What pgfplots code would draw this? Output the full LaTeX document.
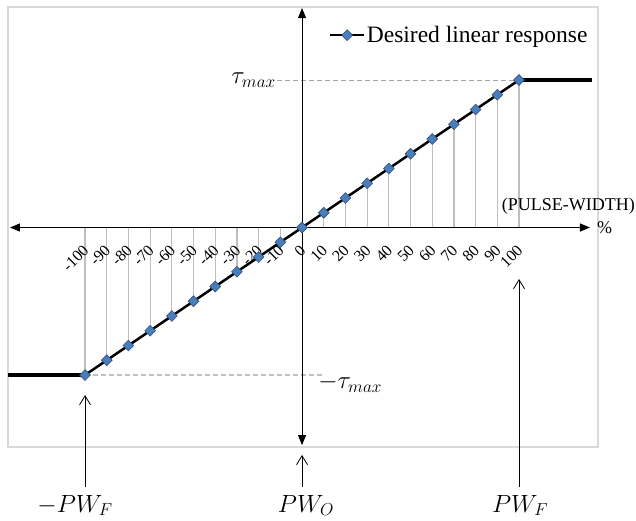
\documentclass[border=0pt]{standalone}
\usepackage{fontspec}
\setmainfont{Liberation Serif}
\usepackage{pgfplots}
\pgfplotsset{compat=1.18}
\usetikzlibrary{arrows.meta,calc}
\definecolor{mk}{HTML}{4A7EBB}
\definecolor{mkd}{HTML}{2F4F7F}
\definecolor{gl}{HTML}{BFBFBF}
\definecolor{dl}{HTML}{A6A6A6}
\definecolor{frm}{HTML}{D9D9D9}
\begin{document}
\begin{tikzpicture}
\begin{axis}[
  at={(8pt,74pt)}, anchor=south west,
  scale only axis, width=590pt, height=440pt,
  xmin=-135.5, xmax=136.4, ymin=-148.8, ymax=149.5,
  axis line style={frm, line width=1.3pt},
  xtick=\empty, ytick=\empty,
  clip=false,
  legend cell align=left,
  legend style={at={(rel axis cs:0.985,0.936)}, anchor=east, draw=none, fill=none,
    inner sep=0pt, nodes={inner sep=1.5pt}, font=\fontsize{23.5}{26}\selectfont},
  legend image code/.code={\draw[#1,mark repeat=2,mark phase=2] plot coordinates {(0pt,0pt)(17pt,0pt)(34pt,0pt)};},
]
% vertical guide lines
\addplot[ycomb, gl, line width=1.2pt, forget plot] coordinates {
(-100,-100)(-90,-90)(-80,-80)(-70,-70)(-60,-60)(-50,-50)(-40,-40)(-30,-30)(-20,-20)(-10,-10)
(10,10)(20,20)(30,30)(40,40)(50,50)(60,60)(70,70)(80,80)(90,90)(100,100)};
% dashed level lines
\addplot[dl, line width=0.9pt, dash pattern=on 5pt off 3pt, forget plot] coordinates {(-11.5,100)(100,100)};
\addplot[gl, line width=1.3pt, dash pattern=on 5pt off 3pt, forget plot] coordinates {(-100,-100)(10.6,-100)};
% axes with arrows
\addplot[black, line width=1.2pt, arrows={Triangle[length=10pt,width=8pt]-Triangle[length=10pt,width=8pt]}, forget plot] coordinates {(-134.6,0)(132.7,0)};
\addplot[black, line width=1pt, arrows={Triangle[length=10pt,width=8pt]-Triangle[length=10pt,width=8pt]}, forget plot] coordinates {(0,-147.5)(0,148.8)};
% saturation plateaus
\addplot[black, line width=4pt, forget plot] coordinates {(-135.5,-100)(-100,-100)};
\addplot[black, line width=4pt, forget plot] coordinates {(100,100)(133.5,100)};
% annotation arrows
\addplot[black, line width=0.8pt, arrows={-Straight Barb[length=9pt,width=11pt]}, forget plot] coordinates {(-100,-175.9)(-100,-113.6)};
\addplot[black, line width=0.8pt, arrows={-Straight Barb[length=9pt,width=11pt]}, forget plot] coordinates {(0,-175.9)(0,-154.2)};
\addplot[black, line width=0.8pt, arrows={-Straight Barb[length=9pt,width=11pt]}, forget plot] coordinates {(100,-175.9)(100,-34.9)};
% main response
\addplot[black, line width=2.5pt, mark=square*, mark size=3.8pt,
  mark options={rotate=45, fill=mk, draw=mkd, line width=0.6pt, solid}] coordinates {
(-100,-100)(-90,-90)(-80,-80)(-70,-70)(-60,-60)(-50,-50)(-40,-40)(-30,-30)(-20,-20)(-10,-10)(0,0)
(10,10)(20,20)(30,30)(40,40)(50,50)(60,60)(70,70)(80,80)(90,90)(100,100)};
\addlegendentry{Desired linear response}
% tick labels
\pgfplotsinvokeforeach{-100,-90,...,100}{
  \node[rotate=45, anchor=east, inner sep=0pt, font=\fontsize{16}{18}\selectfont] at ($(axis cs:#1,0)+(1pt,-20pt)$) {#1};
}
\node[anchor=west, inner sep=0pt, font=\fontsize{18}{20}\selectfont] at (axis cs:135.9,0) {\%};
\node[anchor=east, inner sep=0pt, font=\fontsize{18}{20}\selectfont] at (axis cs:153.5,14.6) {(PULSE-WIDTH)};
% math labels
\node[anchor=east, inner sep=0pt, font=\fontsize{25}{28}\selectfont] at (axis cs:-12,100) {$\tau_{max}$};
\node[anchor=west, inner sep=0pt, font=\fontsize{25}{28}\selectfont] at (axis cs:7.4,-105.4) {$-\tau_{max}$};
\node[anchor=base, inner sep=0pt, font=\fontsize{25}{28}\selectfont] at (axis cs:-104.6,-192.9) {$-PW_F$};
\node[anchor=base, inner sep=0pt, font=\fontsize{25}{28}\selectfont] at (axis cs:1.8,-192.9) {$PW_O$};
\node[anchor=base, inner sep=0pt, font=\fontsize{25}{28}\selectfont] at (axis cs:100.5,-192.9) {$PW_F$};
\end{axis}
\pgfresetboundingbox
\path (0,0) rectangle (636pt,521pt);
\end{tikzpicture}
\end{document}
